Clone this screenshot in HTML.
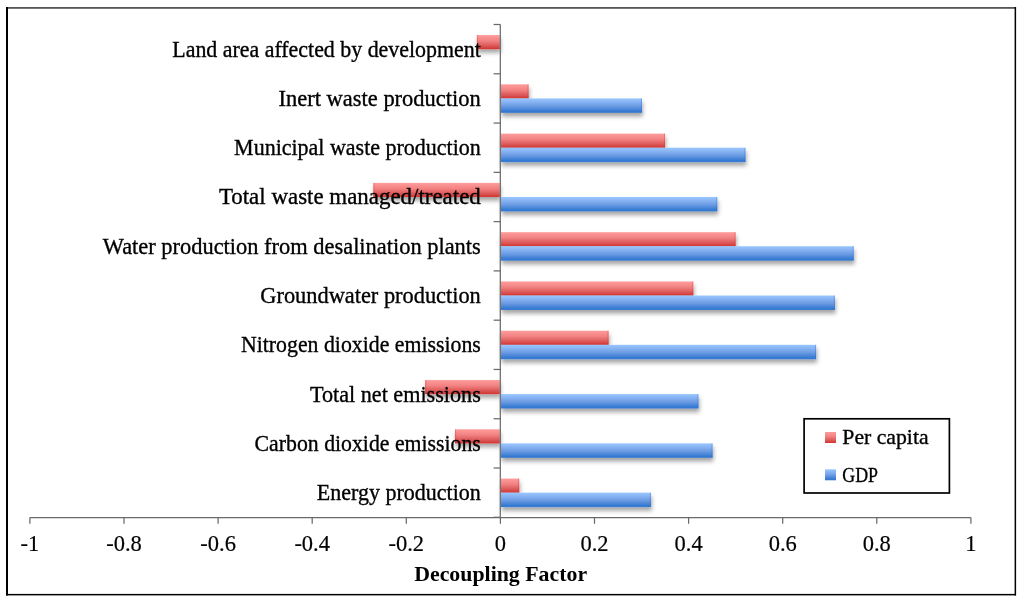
<!DOCTYPE html>
<html><head><meta charset="utf-8"><style>
html,body{margin:0;padding:0;background:#fff;}
svg{display:block;}
text{filter:opacity(1);font-family:"Liberation Serif",serif;font-size:22.5px;fill:#000;stroke:#000;stroke-width:0.35px;}
.k{stroke-width:0.2px;}
.t{font-weight:bold;font-size:22px;stroke-width:0;}
</style></head><body>
<svg width="1024" height="605" viewBox="0 0 1024 605">
<defs>
<linearGradient id="gr" x1="0" y1="0" x2="0" y2="1">
<stop offset="0" stop-color="#ff9c9c"/>
<stop offset="0.4" stop-color="#f28282"/>
<stop offset="0.82" stop-color="#d85050"/>
<stop offset="1" stop-color="#d5312b"/>
</linearGradient>
<linearGradient id="gb" x1="0" y1="0" x2="0" y2="1">
<stop offset="0" stop-color="#96c6ff"/>
<stop offset="0.15" stop-color="#90bbf8"/>
<stop offset="0.55" stop-color="#6a9ae2"/>
<stop offset="0.9" stop-color="#3479d2"/>
<stop offset="1" stop-color="#3a7cd0"/>
</linearGradient>
<filter id="sh" x="-5%" y="-20%" width="110%" height="160%">
<feDropShadow dx="0.8" dy="3.6" stdDeviation="2.0" flood-color="#000" flood-opacity="0.36"/>
</filter>
</defs>
<rect width="1024" height="605" fill="#fff"/>
<g filter="url(#sh)">
<rect x="476.88" y="35.06" width="22.92" height="14.08" fill="url(#gr)"/><rect x="476.88" y="35.06" width="1.1" height="14.08" fill="rgba(215,40,40,0.32)"/><rect x="501.00" y="84.34" width="27.63" height="14.08" fill="url(#gr)"/><rect x="527.53" y="84.34" width="1.1" height="14.08" fill="rgba(215,40,40,0.32)"/><rect x="501.00" y="98.42" width="141.02" height="14.43" fill="url(#gb)"/><rect x="640.92" y="98.42" width="1.1" height="14.43" fill="rgba(40,100,215,0.32)"/><rect x="501.00" y="133.62" width="164.07" height="14.08" fill="url(#gr)"/><rect x="663.97" y="133.62" width="1.1" height="14.08" fill="rgba(215,40,40,0.32)"/><rect x="501.00" y="147.70" width="244.53" height="14.43" fill="url(#gb)"/><rect x="744.43" y="147.70" width="1.1" height="14.43" fill="rgba(40,100,215,0.32)"/><rect x="373.36" y="182.90" width="126.44" height="14.08" fill="url(#gr)"/><rect x="373.36" y="182.90" width="1.1" height="14.08" fill="rgba(215,40,40,0.32)"/><rect x="501.00" y="196.98" width="216.30" height="14.43" fill="url(#gb)"/><rect x="716.20" y="196.98" width="1.1" height="14.43" fill="rgba(40,100,215,0.32)"/><rect x="501.00" y="232.18" width="234.65" height="14.08" fill="url(#gr)"/><rect x="734.55" y="232.18" width="1.1" height="14.08" fill="rgba(215,40,40,0.32)"/><rect x="501.00" y="246.26" width="352.75" height="14.43" fill="url(#gb)"/><rect x="852.65" y="246.26" width="1.1" height="14.43" fill="rgba(40,100,215,0.32)"/><rect x="501.00" y="281.46" width="192.30" height="14.08" fill="url(#gr)"/><rect x="692.20" y="281.46" width="1.1" height="14.08" fill="rgba(215,40,40,0.32)"/><rect x="501.00" y="295.54" width="333.93" height="14.43" fill="url(#gb)"/><rect x="833.83" y="295.54" width="1.1" height="14.43" fill="rgba(40,100,215,0.32)"/><rect x="501.00" y="330.74" width="107.62" height="14.08" fill="url(#gr)"/><rect x="607.51" y="330.74" width="1.1" height="14.08" fill="rgba(215,40,40,0.32)"/><rect x="501.00" y="344.82" width="315.11" height="14.43" fill="url(#gb)"/><rect x="815.01" y="344.82" width="1.1" height="14.43" fill="rgba(40,100,215,0.32)"/><rect x="425.12" y="380.02" width="74.68" height="14.08" fill="url(#gr)"/><rect x="425.12" y="380.02" width="1.1" height="14.08" fill="rgba(215,40,40,0.32)"/><rect x="501.00" y="394.10" width="197.48" height="14.43" fill="url(#gb)"/><rect x="697.38" y="394.10" width="1.1" height="14.43" fill="rgba(40,100,215,0.32)"/><rect x="455.00" y="429.30" width="44.80" height="14.08" fill="url(#gr)"/><rect x="455.00" y="429.30" width="1.1" height="14.08" fill="rgba(215,40,40,0.32)"/><rect x="501.00" y="443.38" width="211.60" height="14.43" fill="url(#gb)"/><rect x="711.50" y="443.38" width="1.1" height="14.43" fill="rgba(40,100,215,0.32)"/><rect x="501.00" y="478.58" width="18.22" height="14.08" fill="url(#gr)"/><rect x="518.12" y="478.58" width="1.1" height="14.08" fill="rgba(215,40,40,0.32)"/><rect x="501.00" y="492.66" width="149.96" height="14.43" fill="url(#gb)"/><rect x="649.86" y="492.66" width="1.1" height="14.43" fill="rgba(40,100,215,0.32)"/>
</g>
<g stroke="#6a6a6a" stroke-width="1.25" fill="none">
<line x1="500.3" y1="24.5" x2="500.3" y2="517.5"/>
<line x1="29.9" y1="517.5" x2="970.9" y2="517.5"/>
<line x1="493.6" y1="24.50" x2="500.4" y2="24.50"/><line x1="493.6" y1="73.78" x2="500.4" y2="73.78"/><line x1="493.6" y1="123.06" x2="500.4" y2="123.06"/><line x1="493.6" y1="172.34" x2="500.4" y2="172.34"/><line x1="493.6" y1="221.62" x2="500.4" y2="221.62"/><line x1="493.6" y1="270.90" x2="500.4" y2="270.90"/><line x1="493.6" y1="320.18" x2="500.4" y2="320.18"/><line x1="493.6" y1="369.46" x2="500.4" y2="369.46"/><line x1="493.6" y1="418.74" x2="500.4" y2="418.74"/><line x1="493.6" y1="468.02" x2="500.4" y2="468.02"/><line x1="493.6" y1="517.30" x2="500.4" y2="517.30"/><line x1="29.90" y1="517.5" x2="29.90" y2="523.8"/><line x1="124.00" y1="517.5" x2="124.00" y2="523.8"/><line x1="218.10" y1="517.5" x2="218.10" y2="523.8"/><line x1="312.20" y1="517.5" x2="312.20" y2="523.8"/><line x1="406.30" y1="517.5" x2="406.30" y2="523.8"/><line x1="500.40" y1="517.5" x2="500.40" y2="523.8"/><line x1="594.50" y1="517.5" x2="594.50" y2="523.8"/><line x1="688.60" y1="517.5" x2="688.60" y2="523.8"/><line x1="782.70" y1="517.5" x2="782.70" y2="523.8"/><line x1="876.80" y1="517.5" x2="876.80" y2="523.8"/><line x1="970.90" y1="517.5" x2="970.90" y2="523.8"/>
</g>
<g>
<text x="172.3" y="56.54" textLength="308.5" lengthAdjust="spacingAndGlyphs">Land area affected by development</text><text x="278.5" y="105.82" textLength="202.3" lengthAdjust="spacingAndGlyphs">Inert waste production</text><text x="234.1" y="155.10" textLength="246.7" lengthAdjust="spacingAndGlyphs">Municipal waste production</text><text x="218.9" y="204.38" textLength="261.9" lengthAdjust="spacingAndGlyphs">Total waste managed/treated</text><text x="102.8" y="253.66" textLength="378.0" lengthAdjust="spacingAndGlyphs">Water production from desalination plants</text><text x="260.3" y="302.94" textLength="220.5" lengthAdjust="spacingAndGlyphs">Groundwater production</text><text x="241.0" y="352.22" textLength="239.8" lengthAdjust="spacingAndGlyphs">Nitrogen dioxide emissions</text><text x="310.0" y="401.50" textLength="170.8" lengthAdjust="spacingAndGlyphs">Total net emissions</text><text x="254.6" y="450.78" textLength="226.2" lengthAdjust="spacingAndGlyphs">Carbon dioxide emissions</text><text x="316.8" y="500.06" textLength="164.0" lengthAdjust="spacingAndGlyphs">Energy production</text>
</g>
<g>
<text class="k" x="29.90" y="550.5" text-anchor="middle">-1</text><text class="k" x="124.00" y="550.5" text-anchor="middle">-0.8</text><text class="k" x="218.10" y="550.5" text-anchor="middle">-0.6</text><text class="k" x="312.20" y="550.5" text-anchor="middle">-0.4</text><text class="k" x="406.30" y="550.5" text-anchor="middle">-0.2</text><text class="k" x="500.40" y="550.5" text-anchor="middle">0</text><text class="k" x="594.50" y="550.5" text-anchor="middle">0.2</text><text class="k" x="688.60" y="550.5" text-anchor="middle">0.4</text><text class="k" x="782.70" y="550.5" text-anchor="middle">0.6</text><text class="k" x="876.80" y="550.5" text-anchor="middle">0.8</text><text class="k" x="970.90" y="550.5" text-anchor="middle">1</text>
</g>
<text class="t" x="414.2" y="581" textLength="172.9" lengthAdjust="spacingAndGlyphs">Decoupling Factor</text>
<rect x="804.1" y="418.8" width="145.3" height="74.2" fill="#fff" stroke="#000" stroke-width="1.7"/>
<rect x="825" y="432" width="11" height="11" fill="url(#gr)"/>
<rect x="825" y="469.3" width="11" height="11" fill="url(#gb)"/>
<text x="842.3" y="444" style="font-size:21.5px" textLength="86.3" lengthAdjust="spacingAndGlyphs">Per capita</text>
<text x="842.3" y="481.7" style="font-size:21.5px" textLength="35.7" lengthAdjust="spacingAndGlyphs">GDP</text>
<rect x="6" y="7" width="1010" height="1.8" fill="#555"/>
<rect x="6" y="7" width="2" height="588.5" fill="#000"/>
<rect x="1014.6" y="7" width="1.5" height="588.5" fill="#000"/>
<rect x="6" y="593.9" width="1010" height="1.5" fill="#000"/>
</svg>
</body></html>
